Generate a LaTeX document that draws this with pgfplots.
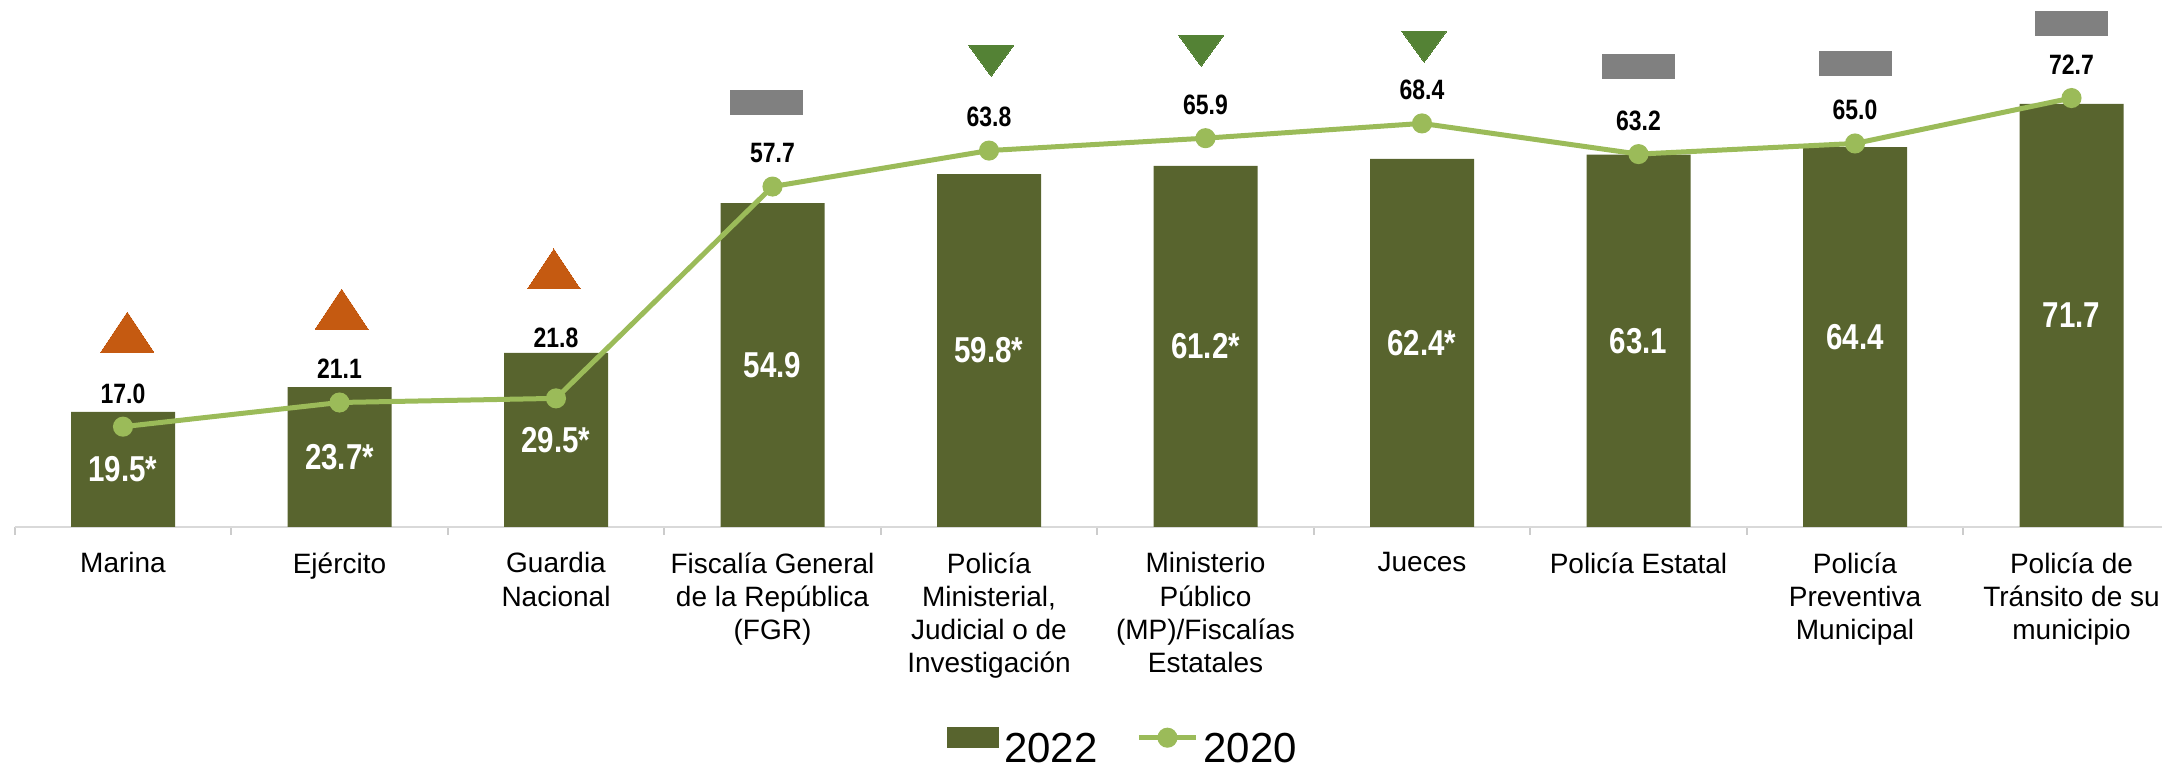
\documentclass[border=0pt]{standalone}
\usepackage{fontspec}
\setmainfont{Liberation Sans}
\newfontfamily\narrow{Liberation Sans}[FakeStretch=0.82]
\usepackage{pgfplots}
\usepackage{pgfplotstable}
\pgfplotsset{compat=1.18}

\definecolor{bar22}{RGB}{88,100,46}
\definecolor{line20}{RGB}{155,187,89}
\definecolor{upor}{RGB}{197,90,17}
\definecolor{downgr}{RGB}{84,130,53}
\definecolor{flat}{RGB}{128,128,128}

% 2022 (bars)
\pgfplotstableread{
x v lab
0 19.5 19.5*
1 23.7 23.7*
2 29.5 29.5*
3 54.9 54.9
4 59.8 59.8*
5 61.2 61.2*
6 62.4 62.4*
7 63.1 63.1
8 64.4 64.4
9 71.7 71.7
}\bars

% 2020 (line), dy = label offset in cm
\pgfplotstableread{
x v lab dy
0 17.0 17.0 0.236
1 21.1 21.1 0.236
2 21.8 21.8 0.51
3 57.7 57.7 0.236
4 63.8 63.8 0.236
5 65.9 65.9 0.236
6 68.4 68.4 0.236
7 63.2 63.2 0.236
8 65.0 65.0 0.236
9 72.7 72.7 0.236
}\prev

\begin{document}
\begin{tikzpicture}
\begin{axis}[
  at={(0.1475cm,2.41cm)}, anchor=south west,
  scale only axis, width=21.65cm, height=5.27cm,
  xmin=-0.5, xmax=9.5, ymin=0, ymax=89.32,
  clip=false,
  axis y line=none,
  axis x line*=bottom,
  x axis line style={-, draw=black!15, line width=0.02cm},
  xtick={0,...,9},
  xticklabels={Marina, Ejército, Guardia\\Nacional,
    Fiscalía General\\de la República\\(FGR),
    {Policía\\Ministerial,\\Judicial o de\\Investigación},
    Ministerio\\Público\\(MP)/Fiscalías\\Estatales,
    Jueces, Policía Estatal, Policía\\Preventiva\\Municipal,
    Policía de\\Tránsito de su\\municipio},
  xticklabel style={font=\fontsize{7.97pt}{9.48pt}\selectfont, align=center,
    anchor=north, inner sep=0pt, yshift=-0.247cm},
  major tick length=0pt,
  minor xtick={-0.5,0.5,...,9.5},
  minor tick length=0.08cm,
  tick align=outside,
  every tick/.style={draw=black!20, line width=0.02cm},
  legend columns=2,
  legend cell align=left,
  legend style={at={(0.4306,-0.4573)}, anchor=south west, draw=none, fill=none,
    inner sep=0pt, outer sep=0pt, nodes={inner sep=0pt},
    font=\fontsize{11.95pt}{14pt}\selectfont,
    /tikz/every odd column/.append style={column sep=0.05cm},
    /tikz/every even column/.append style={column sep=0.39cm}},
]
\addplot[ybar, bar width=1.04cm, bar shift=0pt, fill=bar22, draw=none,
  legend image code/.code={\fill[bar22] (0cm,0.025cm) rectangle (0.52cm,0.235cm);}]
  table[x=x, y=v] {\bars};
\addlegendentry{2022}

\addplot[color=line20, line width=0.05cm, mark=*, mark size=0.075cm,
  mark options={fill=line20, draw=none},
  nodes near coords, point meta=explicit symbolic,
  visualization depends on={\thisrow{dy} \as \dy},
  every node near coord/.style={anchor=base, inner sep=0pt, yshift=\dy cm, text=black,
    font=\fontsize{7.97pt}{9.5pt}\narrow\bfseries},
  legend image code/.code={\draw[line20, line width=0.05cm] (0cm,0.13cm) -- (0.57cm,0.13cm);
    \fill[line20] (0.285cm,0.13cm) circle (0.075cm);}]
  table[x=x, y=v, meta=lab] {\prev};
\addlegendentry{2020}

% labels inside the bars
\addplot[draw=none, mark=none, forget plot, nodes near coords, point meta=explicit symbolic,
  every node near coord/.style={anchor=center, inner sep=0pt, text=white,
    font=\fontsize{10.24pt}{12pt}\narrow\bfseries}]
  table[x=x, y expr=\thisrow{v}/2, meta=lab] {\bars};

% change indicators
\addplot[only marks, forget plot, color=upor, line width=0pt, mark=triangle*, mark size=0.306cm,
  mark options={fill=upor, draw=upor, line width=0pt, yscale=0.871}]
  coordinates {(0.02,31.9) (1.01,35.8) (1.99,42.6)};
\addplot[only marks, forget plot, color=downgr, line width=0pt, mark=triangle*, mark size=0.26cm,
  mark options={fill=downgr, draw=downgr, line width=0pt, yscale=-0.795}]
  coordinates {(4.01,79.9) (4.98,81.6) (6.01,82.3)};
\addplot[only marks, forget plot, color=flat, line width=0pt, mark=square*, mark size=0.12cm,
  mark options={fill=flat, draw=flat, line width=0pt, xscale=3}]
  coordinates {(2.97,72.0) (7,78.0) (8,78.6) (9,85.3)};
\end{axis}
\pgfresetboundingbox
\useasboundingbox (0,0) rectangle (21.62cm,7.68cm);
\end{tikzpicture}
\end{document}
